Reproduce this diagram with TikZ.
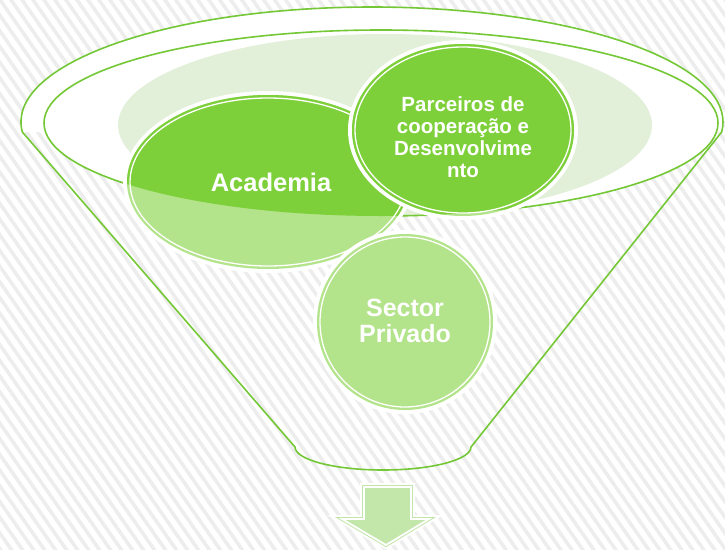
\documentclass[tikz,border=0pt]{standalone}
\usepackage{fontspec}
\setmainfont{Liberation Sans}
\usepackage{tikz}
\usetikzlibrary{calc,patterns.meta}

\definecolor{verdeescuro}{HTML}{7DD03A}
\definecolor{verdeclaro}{HTML}{B3E38A}
\definecolor{verdepalido}{HTML}{E2EFD9}
\definecolor{verdelinha}{HTML}{74C836}
\definecolor{verdeseta}{HTML}{C3E6AA}

\begin{document}
\begin{tikzpicture}[x=1pt,y=-1pt,
    rotulo/.style={text=white,align=center,inner sep=0pt},
    contorno/.style={draw=verdelinha,line width=1.6pt},
    brilho/.style={draw=white,line width=1.3pt}]
%  \tikzstyle{every node}=[draw=none]

  \useasboundingbox (0,0) rectangle (725,549);
  \fill[white] (0,0) rectangle (725,549);
  \fill[pattern={Lines[angle=-55,distance=9pt,line width=3.5pt]},
        pattern color=black!7] (0,0) rectangle (725,549);

  \coordinate (borda) at (372,122);
  \coordinate (boca)  at (381,123);
  \coordinate (fundo) at (383,447);
  \coordinate (cAcad) at (268,182);
  \coordinate (cParc) at (463,130);
  \coordinate (cSect) at (405,322);

  % aro do funil
  \fill[white] (borda) ++(175:351 and 115)
        arc[start angle=175,end angle=365,x radius=351,y radius=115] -- cycle;
  \fill[white] (boca) ellipse [x radius=337,y radius=93];
  \fill[verdepalido] (385,125) ellipse [x radius=267,y radius=91];

  \draw[contorno] (borda) ++(175:351 and 115)
        arc[start angle=175,end angle=365,x radius=351,y radius=115]
        -- ($(fundo)+(88,0)$)
        arc[start angle=0,end angle=180,x radius=88,y radius=23] -- cycle;
  \draw[contorno] (boca) ellipse [x radius=337,y radius=93];

  % Academia
  \fill[white] (cAcad) ellipse [x radius=145,y radius=91];
  \fill[verdeclaro] (cAcad) ellipse [x radius=141,y radius=87];
  \begin{scope}
    \clip (boca) ellipse [x radius=337,y radius=93];
    \fill[verdeescuro] (cAcad) ellipse [x radius=141,y radius=87];
  \end{scope}
  \draw[brilho] (cAcad) ellipse [x radius=138,y radius=84];

  % Parceiros
  \fill[white] (cParc) ellipse [x radius=115,y radius=90];
  \fill[verdeclaro] (cParc) ellipse [x radius=111,y radius=86];
  \begin{scope}
    \clip (boca) ellipse [x radius=337,y radius=93];
    \fill[verdeescuro] (cParc) ellipse [x radius=111,y radius=86];
  \end{scope}
  \draw[brilho] (cParc) ellipse [x radius=108,y radius=83];

  % Sector
  \fill[white] (cSect) ellipse [x radius=92,y radius=92];
  \fill[verdeclaro] (cSect) ellipse [x radius=88,y radius=88];
  \draw[brilho] (cSect) ellipse [x radius=85,y radius=85];

  \node[rotulo,font=\bfseries\fontsize{25.5}{28}\selectfont]
        (acad) at ($(cAcad)+(3,0)$) {Academia};
  \node[rotulo,font=\bfseries\fontsize{20.5}{22}\selectfont]
        (parc) at ($(cParc)+(0,7)$) {Parceiros de\\cooperação e\\Desenvolvime\\nto};
  \node[rotulo,font=\bfseries\fontsize{25}{26}\selectfont]
        (sect) at ($(cSect)+(0,-1)$) {Sector\\Privado};

  % seta de saida
  \draw[preaction={draw=white,line width=8pt},
        draw=verdeseta,double=white,line width=1pt,double distance=1.8pt,
        fill=verdeseta]
        (364,487) -- (411,487) -- (411,519) -- (429,519) -- (386,545)
        -- (342,519) -- (364,519) -- cycle;
\end{tikzpicture}
\end{document}
